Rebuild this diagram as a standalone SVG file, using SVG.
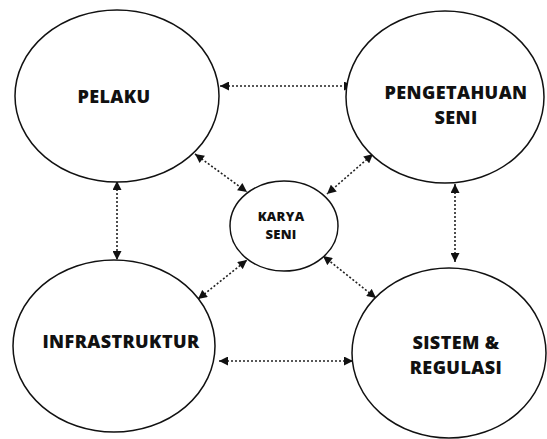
<svg xmlns="http://www.w3.org/2000/svg" width="547" height="439" viewBox="0 0 547 439">
<style>
.node{fill:#fff;stroke:#111;stroke-width:1.5}
.lbl{font-family:"Open Sans","Liberation Sans",sans-serif;font-weight:800;fill:#111;text-anchor:middle}
.big{font-size:18px;letter-spacing:0.4px}
.small{font-size:13px;letter-spacing:0.3px}
.con{stroke:#222;stroke-width:1.6;stroke-dasharray:2 2;fill:none}
</style>
<defs>
<marker id="ah" viewBox="0 0 10 10" refX="10" refY="5" markerWidth="10" markerHeight="9" markerUnits="userSpaceOnUse" orient="auto-start-reverse">
<path d="M0,0 L10,5 L0,10 Z" fill="#111"/>
</marker>
</defs>
<rect width="547" height="439" fill="#fff"/>
<g id="connectors">
<line class="con" x1="220" y1="86" x2="353" y2="86" marker-start="url(#ah)" marker-end="url(#ah)"/>
<line class="con" x1="117" y1="181" x2="117" y2="260" marker-start="url(#ah)" marker-end="url(#ah)"/>
<line class="con" x1="455" y1="184" x2="455" y2="262" marker-start="url(#ah)" marker-end="url(#ah)"/>
<line class="con" x1="219" y1="361" x2="353" y2="361" marker-start="url(#ah)" marker-end="url(#ah)"/>
<line class="con" x1="195" y1="154" x2="247" y2="192" marker-start="url(#ah)" marker-end="url(#ah)"/>
<line class="con" x1="373" y1="154" x2="327" y2="194" marker-start="url(#ah)" marker-end="url(#ah)"/>
<line class="con" x1="198" y1="299" x2="247" y2="260" marker-start="url(#ah)" marker-end="url(#ah)"/>
<line class="con" x1="376" y1="298" x2="323" y2="256" marker-start="url(#ah)" marker-end="url(#ah)"/>
</g>
<g id="pelaku">
<ellipse class="node" cx="117" cy="96" rx="102" ry="86"/>
<text class="lbl big" x="114" y="103">PELAKU</text>
</g>
<g id="pengetahuan">
<ellipse class="node" cx="445" cy="97" rx="99" ry="86"/>
<text class="lbl big" x="456" y="99">PENGETAHUAN<tspan x="456" dy="25">SENI</tspan></text>
</g>
<g id="infrastruktur">
<ellipse class="node" cx="114" cy="346" rx="101" ry="86"/>
<text class="lbl big" x="121" y="348">INFRASTRUKTUR</text>
</g>
<g id="sistem">
<ellipse class="node" cx="449" cy="353" rx="97" ry="85"/>
<text class="lbl big" x="456" y="349">SISTEM &amp;<tspan x="456" dy="25">REGULASI</tspan></text>
</g>
<g id="karya">
<ellipse class="node" cx="284" cy="226" rx="54" ry="45"/>
<text class="lbl small" x="281" y="221">KARYA<tspan x="281" dy="18">SENI</tspan></text>
</g>
</svg>
